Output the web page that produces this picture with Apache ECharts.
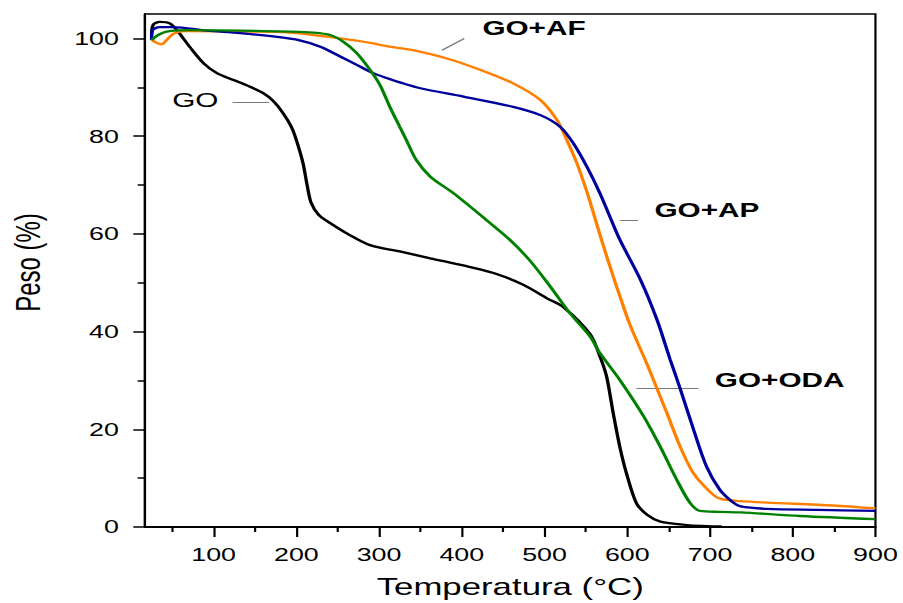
<!DOCTYPE html>
<html>
<head>
<meta charset="utf-8">
<script src="https://cdn.jsdelivr.net/npm/echarts@6/dist/echarts.min.js"></script>
<style>
  html, body { margin: 0; padding: 0; background: #fff; overflow: hidden; }
  /* the source figure is stretched sideways, so the chart is drawn narrow and scaled */
  #chart {
    position: absolute; left: 0; top: 0;
    width: 623px; height: 603px;
    transform: scaleX(1.449438); transform-origin: 0 0;
  }
</style>
</head>
<body>
<div id="chart"></div>
<script>
// temperature (°C) / weight (%)
const goTemp = [25, 27, 35, 47, 57, 71, 88, 104, 124, 144, 160, 172, 184, 194, 200, 208, 213, 218, 227, 241, 261, 289, 325, 362, 410, 442, 474, 503, 523, 555, 567, 575, 583, 591, 599, 611, 624, 640, 672, 696, 714]
const goPeso = [100.5, 102.8, 103.4, 103.1, 101.4, 98.3, 94.9, 92.9, 91.5, 90.1, 88.8, 87.2, 84.7, 81.9, 79.2, 74.5, 70.0, 66.3, 63.9, 62.2, 60.1, 57.7, 56.4, 55.0, 53.2, 51.8, 49.6, 46.8, 45.0, 39.5, 34.9, 30.8, 23.3, 16.4, 11.0, 4.9, 2.5, 1.1, 0.4, 0.2, 0.1]

const afTemp = [25, 30, 37, 45, 52, 65, 132, 192, 253, 293, 301, 325, 341, 382, 422, 462, 495, 515, 527, 539, 551, 561, 571, 583, 591, 603, 624, 636, 648, 664, 680, 700, 712, 737, 769, 849, 900]
const afPeso = [99.8, 99.2, 98.8, 100.0, 101.0, 101.5, 101.4, 101.2, 100.0, 99.0, 98.7, 98.0, 97.6, 95.9, 93.6, 90.8, 87.4, 83.3, 79.2, 74.5, 68.7, 63.2, 57.6, 51.3, 47.3, 41.5, 33.3, 28.3, 23.3, 16.4, 11.0, 7.2, 5.8, 5.3, 5.0, 4.4, 3.8]

const apTemp = [25, 26, 35, 51, 92, 132, 172, 204, 229, 253, 273, 293, 309, 325, 350, 402, 462, 495, 519, 535, 551, 567, 579, 591, 616, 636, 652, 664, 680, 696, 712, 728, 737, 769, 829, 900]
const apPeso = [99.7, 101.7, 102.3, 102.3, 101.6, 101.1, 100.4, 99.6, 98.3, 96.3, 94.6, 92.9, 91.9, 91.0, 89.8, 88.1, 86.0, 84.3, 81.9, 78.5, 73.8, 68.3, 63.5, 58.8, 50.6, 42.4, 34.2, 28.3, 20.0, 12.3, 7.6, 5.0, 4.2, 3.7, 3.5, 3.3]

const odaTemp = [25, 33, 43, 71, 132, 192, 220, 241, 257, 273, 289, 301, 313, 325, 333, 345, 362, 390, 430, 458, 483, 507, 531, 555, 567, 591, 620, 640, 660, 676, 688, 712, 737, 809, 900]
const odaPeso = [99.7, 100.7, 101.4, 101.7, 101.6, 101.4, 101.2, 100.7, 99.3, 97.0, 93.6, 90.5, 86.0, 81.9, 79.2, 75.1, 71.7, 68.3, 62.8, 58.8, 54.4, 49.2, 43.7, 39.0, 35.6, 30.1, 22.6, 16.4, 9.6, 4.9, 3.3, 3.1, 3.0, 2.25, 1.6]

const xTickLabels = [100, 200, 300, 400, 500, 600, 700, 800, 900]
const xMinorTicks = [50, 150, 250, 350, 450, 550, 650, 750, 850]
const yTickLabels = [0, 20, 40, 60, 80, 100]
const yMinorTicks = [10, 30, 50, 70, 90]

// curve labels and their leader lines, in data coordinates
const labelNames = ['GO', 'GO+AF', 'GO+AP', 'GO+ODA']
const labelAt = [[49, 87.4], [424, 102.1], [632, 65.0], [705, 30.1]]
const leaderLines = [
  [[123, 86.9], [167, 86.9]],
  [[376, 97.6], [403, 100.0]],
  [[591, 62.8], [613, 62.8]],
  [[611, 28.3], [686, 28.3]]
]

const FONT = 'Liberation Sans, Arial, sans-serif'
const X_MIN = 17
const X_MAX = 900
const Y_MAX = 105

function zip(xs, ys) {
  return xs.map((x, i) => [x, ys[i]])
}

const chart = echarts.init(document.getElementById('chart'), null, { renderer: 'svg' })

const curves = [
  { name: 'GO', data: zip(goTemp, goPeso), color: '#000000' },
  { name: 'GO+AF', data: zip(afTemp, afPeso), color: '#ff8000' },
  { name: 'GO+AP', data: zip(apTemp, apPeso), color: '#00009c' },
  { name: 'GO+ODA', data: zip(odaTemp, odaPeso), color: '#008000' }
]

const axisLineStyle = { color: '#000', width: 1.5 }

// second axis on each side only carries the short minor ticks
function minorAxis(min, max, position, ticks) {
  return {
    type: 'value', min, max, position, show: true,
    axisLine: { show: true, onZero: false, lineStyle: axisLineStyle },
    axisTick: { show: true, customValues: ticks, length: 5, lineStyle: axisLineStyle },
    axisLabel: { show: true, customValues: ticks, formatter: () => '' },
    splitLine: { show: false }
  }
}

chart.setOption({
  animation: false,
  grid: {
    left: 100, right: 19, top: 14, bottom: 76,
    outerBoundsMode: 'none', containLabel: false,
    show: true, borderColor: '#000', borderWidth: 1.5, backgroundColor: 'transparent'
  },
  xAxis: [
    {
      type: 'value', min: X_MIN, max: X_MAX, position: 'bottom',
      axisLine: { onZero: false, lineStyle: axisLineStyle },
      axisTick: { customValues: xTickLabels, length: 10, lineStyle: axisLineStyle },
      axisLabel: { customValues: xTickLabels, fontSize: 18.5, fontFamily: FONT, color: '#000', margin: 18 },
      splitLine: { show: false },
      name: 'Temperatura (°C)', nameLocation: 'middle', nameGap: 48,
      nameTextStyle: { fontSize: 24, fontFamily: FONT, color: '#000' }
    },
    minorAxis(X_MIN, X_MAX, 'bottom', xMinorTicks)
  ],
  yAxis: [
    {
      type: 'value', min: 0, max: Y_MAX, position: 'left',
      axisLine: { show: true, onZero: false, lineStyle: axisLineStyle },
      axisTick: { show: true, customValues: yTickLabels, length: 8, lineStyle: axisLineStyle },
      axisLabel: { customValues: yTickLabels, fontSize: 18.5, fontFamily: FONT, color: '#000', margin: 18 },
      splitLine: { show: false },
      name: 'Peso (%)', nameLocation: 'middle', nameGap: 69,
      nameTextStyle: { fontSize: 24, fontFamily: FONT, color: '#000', padding: [0, 0, 0, 16] }
    },
    minorAxis(0, Y_MAX, 'left', yMinorTicks)
  ],
  series: [
    ...curves.map(c => ({
      name: c.name,
      type: 'line',
      data: c.data,
      showSymbol: false,
      symbol: 'none',
      smooth: 0.3,
      lineStyle: { color: c.color, width: 2.3 },
      itemStyle: { color: c.color },
      silent: true
    })),
    {
      // leader lines sit on the minor-tick axes (same range), which keeps those axes in use
      type: 'lines',
      coordinateSystem: 'cartesian2d',
      xAxisIndex: 1,
      yAxisIndex: 1,
      data: leaderLines.map(coords => ({ coords })),
      lineStyle: { color: '#7a7a7a', width: 1.2, opacity: 1 },
      silent: true
    },
    {
      type: 'scatter',
      xAxisIndex: 1,
      yAxisIndex: 1,
      data: labelNames.map((n, i) => ({
        name: n,
        value: labelAt[i],
        label: { fontWeight: i === 0 ? 'normal' : 'bold' }
      })),
      symbolSize: 1,
      itemStyle: { color: 'rgba(0,0,0,0)' },
      label: {
        show: true, position: 'right', distance: 0,
        formatter: p => p.name,
        fontSize: 20.5, fontFamily: FONT, color: '#000', opacity: 1, textBorderWidth: 0
      },
      silent: true
    }
  ]
})
</script>
</body>
</html>
